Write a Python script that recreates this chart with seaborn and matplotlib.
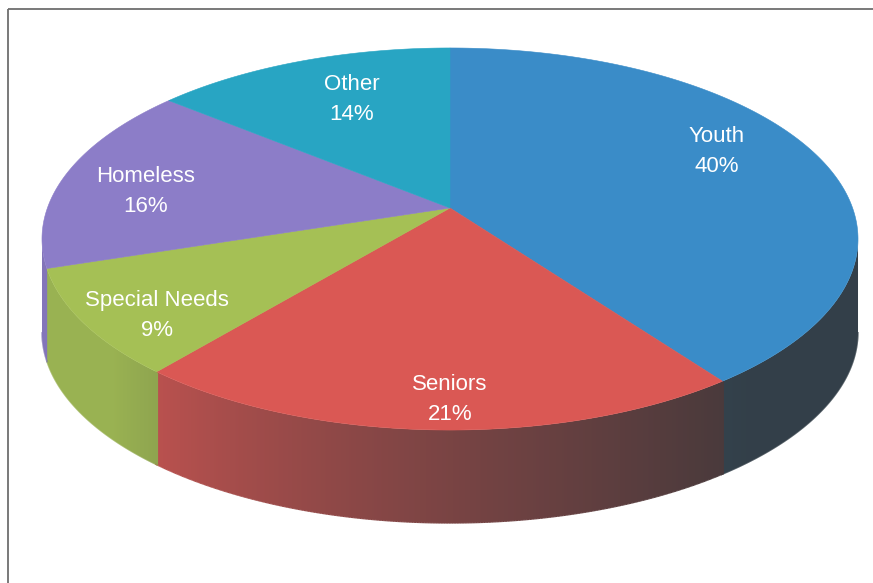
import numpy as np
import matplotlib
matplotlib.use("Agg")
import matplotlib.pyplot as plt
from matplotlib.collections import LineCollection
from matplotlib.patches import Polygon
from matplotlib.colors import to_rgb
import seaborn as sns

# Funding share by client group
categories = ["Youth", "Seniors", "Special Needs", "Homeless", "Other"]
shares = [40, 21, 9, 16, 14]
pct_labels = ["40%", "21%", "9%", "16%", "14%"]
top_colors = ["#3A8CC8", "#DA5854", "#A5C055", "#8C7DC8", "#28A5C3"]

# Layout of the tilted disc (pixel space)
W, H = 873, 583
CX, CY = 450, 208          # apex where the slices meet
RX = 402.6                 # horizontal radius
RY = 186.0                 # vertical radius before perspective
K = 0.1623                 # perspective strength (far side shrinks)
DEPTH = 93                 # wall thickness
WALL_DARK = np.array([0.20, 0.21, 0.22])
# label anchors: centre x and baseline of the first line
LABEL_XY = [(717, 142), (450, 390), (157, 306), (146, 182), (352, 90)]
LINE_PITCH = 29.5

sns.set_theme(style="white")
plt.rcParams["font.family"] = ["Liberation Sans", "DejaVu Sans"]
palette = sns.color_palette(top_colors)

fig = plt.figure(figsize=(W / 100, H / 100), dpi=100)
ax = fig.add_axes([0, 0, 1, 1])


def project(t, r=1.0):
    """Map polar angle t (radians) on the unit disc to screen pixels."""
    X = r * np.cos(t)
    Y = r * np.sin(t)
    d = 1 + K * Y
    return CX + RX * X / d, CY - RY * Y / d


# Slice boundaries: start at 12 o'clock, run clockwise
fractions = np.array(shares, dtype=float) / np.sum(shares)
bounds = np.pi / 2 - 2 * np.pi * np.concatenate([[0], np.cumsum(fractions)])

# Front wall is visible between the leftmost and rightmost silhouette points
vis_lo = -np.pi + np.arcsin(K)
vis_hi = -np.arcsin(K)
OVERLAP = np.radians(0.25)   # tiny overlap so neighbouring walls leave no seam


def wall_colors(base, t):
    s = (vis_hi - t) / (vis_hi - vis_lo)
    w = 0.12 + 0.78 * np.clip((s - 0.25) / 0.55, 0, 1) ** 1.2
    return np.clip(w[:, None] * base + (1 - w[:, None]) * WALL_DARK, 0, 1)


# Walls: a smooth horizontal light-to-shadow gradient clipped to each slice side
for i in range(len(shares)):
    t0, t1 = bounds[i + 1], bounds[i]
    a = max(t0 - OVERLAP, vis_lo)
    b = min(t1 + OVERLAP, vis_hi)
    if a >= b:
        continue
    base = np.array(to_rgb(palette[i]))
    ts = np.linspace(a, b, 400)
    xs, ys = project(ts)
    verts = np.vstack([np.column_stack([xs, ys]),
                       np.column_stack([xs[::-1], ys[::-1] + DEPTH])])
    xgrid = np.linspace(xs.min(), xs.max(), 800)
    tgrid = np.interp(xgrid, xs, ts)
    img = wall_colors(base, tgrid)[None, :, :]
    im = ax.imshow(img, extent=(xs.min(), xs.max(), ys.max() + DEPTH, ys.min()),
                   aspect="auto", interpolation="bilinear", zorder=1)
    clip = Polygon(verts, closed=True, fc="none", ec="none", transform=ax.transData)
    ax.add_patch(clip)
    im.set_clip_path(clip)
    # soft lower rim
    segs = [[(xs[j], ys[j] + DEPTH), (xs[j + 1], ys[j + 1] + DEPTH)]
            for j in range(len(xs) - 1)]
    rim = wall_colors(base, 0.5 * (ts[:-1] + ts[1:]))
    ax.add_collection(LineCollection(segs, colors=rim, linewidths=0.9, zorder=2))

# Top faces of the slices
for i in range(len(shares)):
    ts = np.linspace(bounds[i], bounds[i + 1], 200)
    xs, ys = project(ts)
    px = np.concatenate([[CX], xs])
    py = np.concatenate([[CY], ys])
    ax.fill(px, py, color=palette[i], lw=0.4, ec=palette[i], zorder=3)

# Category labels
for name, pct, (lx, ly) in zip(categories, pct_labels, LABEL_XY):
    ax.text(lx, ly, name, color="white", fontsize=16,
            ha="center", va="baseline", zorder=5)
    ax.text(lx, ly + LINE_PITCH, pct, color="white", fontsize=16,
            ha="center", va="baseline", zorder=5)

# Frame of the chart area
ax.plot([8, W], [8.5, 8.5], color="#6e6e6e", lw=1.3, solid_capstyle="butt", zorder=6)
ax.plot([8, 8], [8.5, H], color="#6e6e6e", lw=1.3, solid_capstyle="butt", zorder=6)

ax.set_xlim(0, W)
ax.set_ylim(H, 0)
ax.set_aspect("auto")
ax.axis("off")

fig.savefig("out.png", dpi=100, facecolor="white")
